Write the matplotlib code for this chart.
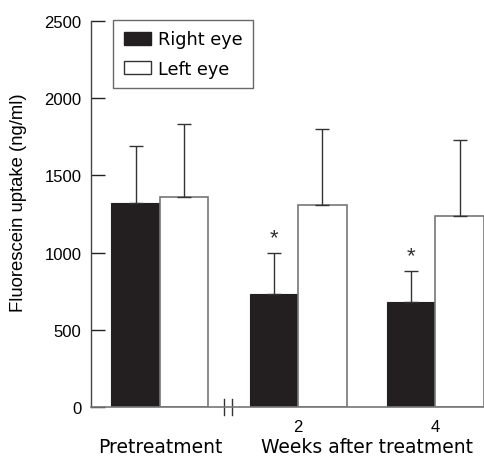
import numpy as np
import matplotlib
matplotlib.use('Agg')
import matplotlib.pyplot as plt
from matplotlib.patches import Patch

plt.rcParams['font.family'] = ['Liberation Sans', 'DejaVu Sans']

# data
groups = ['Pretreatment', '2', '4']
right_eye = [1320, 730, 680]
right_err = [370, 270, 200]
left_eye = [1360, 1310, 1240]
left_err = [470, 490, 490]
starred = [False, True, True]

# group centres in bar-width units (gap for the axis break)
pos = np.array([0.0, 2.85, 5.68])
w = 1.0
black = '#231f20'
grey = '#777777'
wide = ['DejaVu Sans']

fig = plt.figure(figsize=(4.85, 4.64), dpi=100)
ax = fig.add_axes([91 / 485, 1 - 408 / 464, (484 - 91) / 485, (408 - 22) / 464])

ax.bar(pos - w / 2, right_eye, w, color=black, edgecolor=black, linewidth=0.8)
ax.bar(pos + w / 2, left_eye, w, color='white', edgecolor=grey, linewidth=1.2)
ax.errorbar(pos - w / 2, right_eye, yerr=[np.zeros(3), right_err], fmt='none',
            ecolor='#333333', elinewidth=1, capsize=5, capthick=1)
ax.errorbar(pos + w / 2, left_eye, yerr=[np.zeros(3), left_err], fmt='none',
            ecolor='#333333', elinewidth=1, capsize=5, capthick=1)

for x, v, e, s in zip(pos - w / 2, right_eye, right_err, starred):
    if s:
        ax.text(x, v + e + 30, '*', ha='center', va='bottom', fontsize=16,
                color='#333333')

ax.set_xlim(-1.42, 6.68)
ax.set_ylim(0, 2500)
ax.set_yticks([0, 500, 1000, 1500, 2000, 2500])
ax.tick_params(axis='y', direction='in', length=10, width=1, labelsize=12,
               color='#222222', pad=7)
ax.set_xticks(pos[1:])
ax.set_xticklabels(groups[1:])
ax.tick_params(axis='x', length=0, labelsize=12, pad=9)

for side in ['top', 'right']:
    ax.spines[side].set_visible(False)
ax.spines['left'].set_color('#444444')
ax.spines['bottom'].set_color(grey)
ax.spines['left'].set_linewidth(1)
ax.spines['bottom'].set_linewidth(1.2)

# axis break marks
for bx in [1.32, 1.48]:
    ax.plot([bx, bx], [-50, 50], color='#333333', lw=1, clip_on=False)

ax.text(pos[0], -0.078, 'Pretreatment', transform=ax.get_xaxis_transform(),
        ha='center', va='top', fontsize=13.5, family=wide)
ax.text((pos[1] + pos[2]) / 2, -0.078, 'Weeks after treatment',
        transform=ax.get_xaxis_transform(), ha='center', va='top',
        fontsize=13.5, family=wide)

ax.set_ylabel('Fluorescein uptake (ng/ml)', fontsize=13.3)
ax.yaxis.set_label_coords(-0.163, 0.532)

handles = [Patch(facecolor=black, edgecolor=black, label='Right eye'),
           Patch(facecolor='white', edgecolor='#333333', label='Left eye')]
leg = ax.legend(handles=handles, loc='upper left', bbox_to_anchor=(0.056, 1.003),
                prop={'family': wide, 'size': 12.7}, frameon=True, fancybox=False,
                handlelength=1.55, handleheight=0.72, handletextpad=0.4,
                borderpad=0.6, labelspacing=0.65, borderaxespad=0)
leg.get_frame().set_edgecolor('#444444')
leg.get_frame().set_linewidth(1)

fig.savefig('out.png', dpi=100)
